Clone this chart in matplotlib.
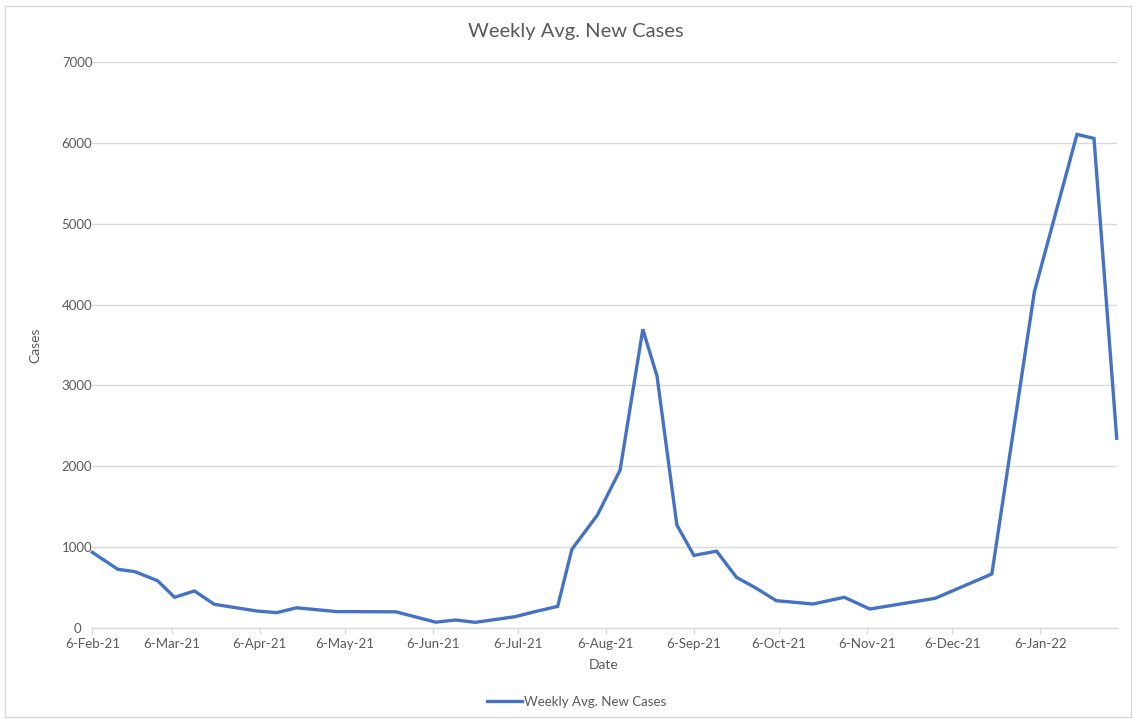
import matplotlib
matplotlib.use("Agg")
import matplotlib.pyplot as plt
import matplotlib.dates as mdates
from matplotlib.patches import Rectangle
import pandas as pd

# Weekly average of new cases
dates = ["2021-02-06", "2021-02-15", "2021-02-21", "2021-03-01", "2021-03-07",
         "2021-03-14", "2021-03-21", "2021-04-05", "2021-04-12", "2021-04-19",
         "2021-05-03", "2021-05-24", "2021-06-07", "2021-06-14", "2021-06-21",
         "2021-06-28", "2021-07-05", "2021-07-12", "2021-07-20", "2021-07-25",
         "2021-08-03", "2021-08-11", "2021-08-19", "2021-08-24", "2021-08-31",
         "2021-09-06", "2021-09-14", "2021-09-21", "2021-09-28", "2021-10-05",
         "2021-10-18", "2021-10-29", "2021-11-07", "2021-11-30", "2021-12-20",
         "2022-01-04", "2022-01-19", "2022-01-25", "2022-02-02"]
cases = [936, 726, 697, 585, 380,
         458, 293, 210, 190, 250,
         203, 200, 72, 99, 70,
         105, 140, 202, 268, 973,
         1397, 1954, 3694, 3117, 1274,
         898, 950, 627, 491, 338,
         297, 380, 235, 367, 668,
         4160, 6105, 6055, 2347]

tick_dates = ["2021-02-06", "2021-03-06", "2021-04-06", "2021-05-06", "2021-06-06",
              "2021-07-06", "2021-08-06", "2021-09-06", "2021-10-06", "2021-11-06",
              "2021-12-06", "2022-01-06"]
y_ticks = [0, 1000, 2000, 3000, 4000, 5000, 6000, 7000]

series_name = "Weekly Avg. New Cases"
line_color = "#4472C4"
text_color = "#595959"
grid_color = "#D9D9D9"

plt.rcParams["font.family"] = ["Lato", "DejaVu Sans"]

W, H = 1133, 719
fig = plt.figure(figsize=(W / 100, H / 100), dpi=100)

# chart frame
fig.patches.append(Rectangle((5 / W, 2 / H), 1126 / W, 711 / H, transform=fig.transFigure,
                             fill=False, edgecolor=grid_color, linewidth=1.0))

ax = fig.add_axes([92.3 / W, (H - 628) / H, (1116.7 - 92.3) / W, 566 / H])

x = pd.to_datetime(dates)
ax.plot(x, cases, color=line_color, linewidth=2.4, solid_joinstyle="miter",
        label=series_name, clip_on=False, zorder=3)

ax.set_xlim(x[0], x[-1])
ax.set_ylim(0, 7000)
ax.set_yticks(y_ticks)
ax.set_yticklabels([str(v) for v in y_ticks])
ax.set_xticks(pd.to_datetime(tick_dates))
ax.xaxis.set_major_formatter(mdates.DateFormatter("%-d-%b-%y"))

ax.grid(axis="y", color=grid_color, linewidth=1.0)
ax.set_axisbelow(True)
for side in ["top", "right", "left"]:
    ax.spines[side].set_visible(False)
ax.spines["bottom"].set_color(grid_color)
ax.spines["bottom"].set_linewidth(1.0)

ax.tick_params(axis="y", length=0, pad=11, labelsize=9.5, labelcolor=text_color)
ax.tick_params(axis="x", length=4, width=1.0, color=grid_color, pad=3,
               labelsize=9.5, labelcolor=text_color)
for lab in ax.get_yticklabels():
    lab.set_horizontalalignment("center")

fig.text(576 / W, 1 - 32 / H, series_name, ha="center", va="center",
         fontsize=14.5, color=text_color)
fig.text(604 / W, 1 - 665 / H, "Date", ha="center", va="center",
         fontsize=10, color=text_color)
fig.text(35 / W, 1 - 345 / H, "Cases", ha="center", va="center", rotation=90,
         fontsize=10, color=text_color)

leg = fig.legend(loc="center", bbox_to_anchor=(577 / W, 1 - 702 / H), frameon=False,
                 fontsize=9.5, handlelength=2.6, handletextpad=0.2, labelcolor=text_color)

fig.savefig("out.png", dpi=100, facecolor="white")
